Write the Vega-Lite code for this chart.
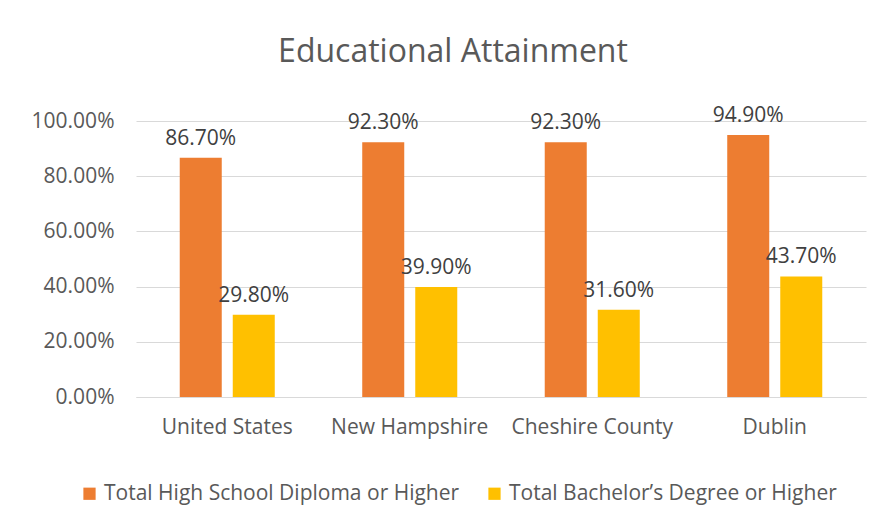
{
  "$schema": "https://vega.github.io/schema/vega-lite/v6.json",
  "width": 730,
  "height": 276,
  "autosize": "none",
  "padding": {"left": 136, "top": 121, "right": 16, "bottom": 132},
  "background": "white",
  "config": {
    "font": "Open Sans",
    "view": {"stroke": null}
  },
  "title": {
    "text": "Educational Attainment",
    "fontSize": 32,
    "fontWeight": "normal",
    "color": "#595959",
    "font": "Open Sans",
    "anchor": "middle",
    "dx": -48,
    "offset": 36
  },
  "data": {
    "values": [
      {"place": "United States", "series": "Total High School Diploma or Higher", "value": 0.867},
      {"place": "United States", "series": "Total Bachelor’s Degree or Higher", "value": 0.298},
      {"place": "New Hampshire", "series": "Total High School Diploma or Higher", "value": 0.923},
      {"place": "New Hampshire", "series": "Total Bachelor’s Degree or Higher", "value": 0.399},
      {"place": "Cheshire County", "series": "Total High School Diploma or Higher", "value": 0.923},
      {"place": "Cheshire County", "series": "Total Bachelor’s Degree or Higher", "value": 0.316},
      {"place": "Dublin", "series": "Total High School Diploma or Higher", "value": 0.949},
      {"place": "Dublin", "series": "Total Bachelor’s Degree or Higher", "value": 0.437}
    ]
  },
  "encoding": {
    "x": {
      "field": "place", "type": "nominal", "sort": null,
      "scale": {"paddingInner": 0, "paddingOuter": 0},
      "axis": {"title": null, "labelAngle": 0, "labelFontSize": 21, "labelColor": "#595959", "labelPadding": 19, "ticks": false, "domainColor": "#d9d9d9", "domainWidth": 1}
    },
    "xOffset": {
      "field": "series", "type": "nominal", "sort": null,
      "scale": {"paddingInner": 0.2075, "paddingOuter": 0.825}
    },
    "y": {
      "field": "value", "type": "quantitative",
      "scale": {"domain": [0, 1]},
      "axis": {"title": null, "format": ".2%", "values": [0, 0.2, 0.4, 0.6, 0.8, 1.0], "labelFontSize": 21, "labelColor": "#595959", "labelPadding": 22, "ticks": false, "domain": false, "gridColor": "#d9d9d9", "gridWidth": 1}
    }
  },
  "layer": [
    {
      "mark": {"type": "bar"},
      "encoding": {
        "color": {
          "field": "series", "type": "nominal", "sort": null,
          "scale": {"domain": ["Total High School Diploma or Higher", "Total Bachelor’s Degree or Higher"], "range": ["#ED7D31", "#FFC000"]},
          "legend": {
            "title": null, "orient": "none", "direction": "horizontal",
            "legendX": -57, "legendY": 362,
            "symbolType": "square", "symbolSize": 150, "symbolStrokeWidth": 0,
            "labelFontSize": 21, "labelColor": "#595959", "labelOffset": 4,
            "columnPadding": 24, "labelLimit": 400
          }
        }
      }
    },
    {
      "mark": {"type": "text", "baseline": "bottom", "dy": -9, "fontSize": 21, "color": "#404040"},
      "encoding": {
        "text": {"field": "value", "type": "quantitative", "format": ".2%"}
      }
    }
  ]
}
